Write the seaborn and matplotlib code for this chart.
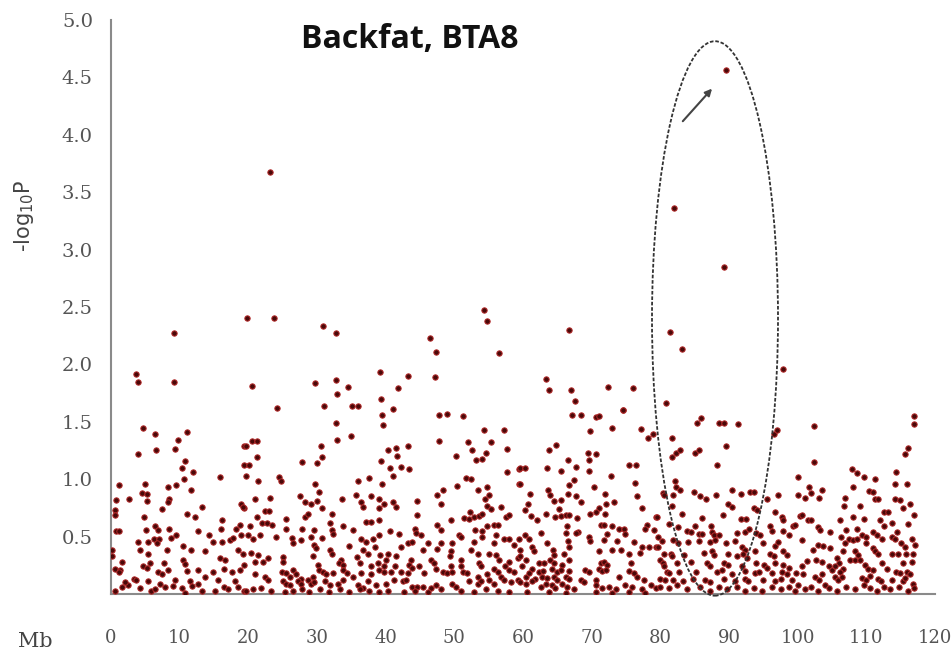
import pandas as pd
import matplotlib.pyplot as plt
import seaborn as sns
from matplotlib.patches import Ellipse

# Peak / upper points (Mb, -log10P)
peaks = [(23.2, 3.68), (89.6, 4.56), (82.0, 3.36), (89.3, 2.85), (19.8, 2.40), (23.7, 2.40),
         (81.4, 2.28), (83.2, 2.13), (97.9, 1.96), (76.0, 1.79), (74.6, 1.60), (80.8, 1.66),
         (9.2, 2.27), (3.7, 1.92), (3.9, 1.85), (9.2, 1.85), (20.5, 1.81), (29.7, 1.84),
         (24.2, 1.62), (30.9, 2.33), (32.8, 2.27), (46.5, 2.23), (47.3, 2.11), (47.2, 1.89),
         (39.2, 1.93), (32.8, 1.86), (34.5, 1.80), (41.8, 1.79), (43.3, 1.90), (66.7, 2.30),
         (56.5, 2.10), (63.3, 1.87), (63.8, 1.78), (67.0, 1.78), (72.4, 1.80), (54.3, 2.47),
         (54.7, 2.38)]

seg_0_19 = [(4.7, 1.45), (6.4, 1.39), (11.0, 1.41), (9.7, 1.34), (9.3, 1.26), (6.6, 1.25), (3.9, 1.22),
            (10.8, 1.16), (10.4, 1.10), (12.0, 1.06), (10.6, 1.00), (15.9, 1.02), (19.4, 1.29), (1.1, 0.95),
            (5.0, 0.96), (8.3, 0.93), (9.4, 0.95), (11.7, 0.91), (4.5, 0.88), (5.3, 0.87), (2.6, 0.83),
            (0.7, 0.82), (8.4, 0.83), (8.3, 0.80), (5.3, 0.81), (7.5, 0.74), (0.6, 0.73), (19.0, 0.78),
            (19.3, 0.75), (13.3, 0.76), (0.6, 0.69), (4.8, 0.67), (11.1, 0.70), (12.2, 0.67), (6.4, 0.59),
            (6.8, 0.56), (8.4, 0.57), (5.1, 0.56), (0.7, 0.55), (1.1, 0.55), (12.6, 0.55), (16.2, 0.64),
            (16.0, 0.57), (18.8, 0.60), (18.2, 0.57), (9.4, 0.51), (14.3, 0.51), (6.3, 0.48), (7.0, 0.48),
            (3.9, 0.45), (5.4, 0.45), (6.7, 0.44), (8.8, 0.49), (10.5, 0.42), (11.7, 0.38), (14.8, 0.45),
            (16.1, 0.45), (17.3, 0.47), (17.8, 0.49), (18.9, 0.51), (0.1, 0.38), (4.2, 0.38), (8.1, 0.38),
            (5.4, 0.35), (13.7, 0.37), (18.5, 0.38), (15.9, 0.31), (16.6, 0.30), (0.1, 0.33), (1.6, 0.28),
            (5.7, 0.27), (7.7, 0.27), (10.5, 0.30), (10.8, 0.26), (0.6, 0.22), (1.3, 0.21), (4.6, 0.24),
            (5.2, 0.23), (6.9, 0.19), (7.5, 0.17), (8.3, 0.21), (11.0, 0.20), (12.7, 0.21), (13.7, 0.15),
            (14.9, 0.19), (16.5, 0.22), (17.6, 0.19), (18.8, 0.21), (1.1, 0.19), (3.3, 0.13), (3.7, 0.12),
            (5.4, 0.11), (9.3, 0.12), (11.5, 0.11), (15.6, 0.12), (18.1, 0.11), (0.6, 0.03), (1.6, 0.06),
            (2.5, 0.08), (4.2, 0.05), (5.9, 0.03), (6.4, 0.04), (7.9, 0.06), (9.1, 0.07), (10.3, 0.05),
            (11.8, 0.07), (13.2, 0.03), (15.1, 0.03), (16.4, 0.06), (17.1, 0.04), (18.5, 0.06), (19.3, 0.03),
            (2.1, 0.10), (7.1, 0.09), (10.8, 0.01), (12.7, 0.09)]

seg_19_39 = [(32.9, 1.74), (31.0, 1.64), (35.1, 1.64), (35.9, 1.64), (39.3, 1.70), (32.7, 1.49), (35.0, 1.38),
             (32.9, 1.34), (39.5, 1.56), (39.6, 1.47), (19.6, 1.29), (20.6, 1.33), (21.3, 1.33), (21.2, 1.19),
             (30.6, 1.29), (30.7, 1.19), (27.8, 1.15), (30.0, 1.14), (19.4, 1.12), (20.1, 1.12), (19.7, 1.03),
             (24.4, 1.02), (24.8, 0.98), (21.4, 0.98), (37.6, 1.01), (39.3, 1.16), (36.0, 0.98), (29.7, 0.96),
             (30.3, 0.89), (20.9, 0.83), (23.1, 0.84), (27.5, 0.85), (28.2, 0.80), (29.2, 0.78), (30.0, 0.81),
             (30.8, 0.75), (33.7, 0.83), (35.7, 0.86), (36.4, 0.80), (36.7, 0.76), (37.9, 0.85), (39.0, 0.83),
             (39.1, 0.75), (19.2, 0.76), (22.4, 0.72), (23.0, 0.72), (21.2, 0.67), (25.5, 0.65), (28.3, 0.67),
             (28.7, 0.70), (32.2, 0.70), (31.9, 0.62), (33.8, 0.59), (35.2, 0.56), (37.1, 0.63), (37.9, 0.63),
             (39.1, 0.64), (22.0, 0.62), (22.7, 0.62), (23.5, 0.60), (20.2, 0.59), (25.5, 0.57), (27.8, 0.57),
             (29.5, 0.56), (32.2, 0.56), (19.9, 0.51), (21.7, 0.51), (26.4, 0.49), (27.7, 0.47), (29.2, 0.50),
             (30.8, 0.49), (32.4, 0.52), (36.4, 0.48), (37.1, 0.45), (38.1, 0.48), (39.0, 0.51), (20.7, 0.48),
             (24.1, 0.50), (26.5, 0.44), (29.5, 0.43), (29.9, 0.40), (31.9, 0.38), (34.6, 0.42), (36.7, 0.38),
             (37.4, 0.35), (38.5, 0.41), (19.2, 0.35), (20.4, 0.36), (21.4, 0.34), (22.8, 0.31), (25.0, 0.32),
             (29.4, 0.33), (32.2, 0.35), (33.5, 0.30), (35.8, 0.32), (39.2, 0.34), (20.9, 0.28), (22.1, 0.28),
             (19.4, 0.25), (25.0, 0.28), (30.1, 0.25), (33.2, 0.27), (33.8, 0.25), (36.3, 0.27), (37.9, 0.24),
             (38.9, 0.27), (24.9, 0.19), (25.5, 0.18), (26.0, 0.15), (26.5, 0.21), (27.0, 0.17), (27.7, 0.13),
             (28.7, 0.12), (29.4, 0.15), (30.3, 0.21), (30.9, 0.19), (31.3, 0.17), (32.3, 0.18), (33.8, 0.21),
             (34.3, 0.18), (35.2, 0.15), (36.4, 0.18), (37.9, 0.17), (39.1, 0.21), (20.9, 0.17), (22.4, 0.15),
             (22.8, 0.12), (25.0, 0.11), (25.5, 0.09), (26.0, 0.08), (27.2, 0.11), (27.7, 0.09), (29.2, 0.09),
             (29.6, 0.10), (31.1, 0.11), (31.9, 0.08), (33.0, 0.09), (33.8, 0.12), (35.9, 0.08), (36.7, 0.05),
             (37.4, 0.11), (38.6, 0.08), (19.7, 0.03), (20.7, 0.04), (21.9, 0.05), (23.3, 0.03), (25.3, 0.02),
             (26.5, 0.03), (27.8, 0.04), (28.9, 0.02), (30.4, 0.04), (31.8, 0.02), (33.3, 0.04), (34.7, 0.02),
             (36.2, 0.04), (37.6, 0.03), (39.1, 0.02)]

seg_39_59 = [(41.1, 1.61), (47.7, 1.56), (48.9, 1.57), (51.3, 1.55), (54.3, 1.43), (57.2, 1.43), (47.7, 1.33),
             (52.0, 1.32), (55.3, 1.32), (40.4, 1.25), (41.5, 1.27), (43.3, 1.29), (41.7, 1.20), (52.6, 1.25),
             (54.6, 1.23), (57.6, 1.26), (50.2, 1.20), (53.1, 1.17), (54.1, 1.18), (40.7, 1.10), (42.3, 1.11),
             (43.4, 1.09), (41.1, 1.03), (57.6, 1.06), (59.4, 1.09), (51.7, 1.01), (52.5, 1.00), (39.4, 0.96),
             (48.3, 0.91), (50.4, 0.94), (53.4, 0.91), (54.7, 0.93), (59.4, 0.96), (47.5, 0.86), (44.6, 0.81),
             (48.1, 0.78), (54.4, 0.83), (55.1, 0.86), (39.7, 0.78), (41.1, 0.80), (41.5, 0.76), (54.8, 0.77),
             (55.3, 0.74), (56.8, 0.76), (44.6, 0.69), (52.3, 0.71), (51.4, 0.66), (52.2, 0.65), (52.9, 0.67),
             (53.6, 0.68), (54.1, 0.70), (57.5, 0.67), (58.0, 0.69), (49.5, 0.64), (54.7, 0.59), (55.8, 0.60),
             (56.4, 0.60), (47.5, 0.60), (44.2, 0.57), (44.4, 0.53), (48.1, 0.56), (53.0, 0.56), (54.0, 0.55),
             (40.7, 0.55), (45.2, 0.51), (50.7, 0.51), (51.0, 0.50), (54.1, 0.50), (56.0, 0.51), (57.2, 0.48),
             (58.0, 0.48), (42.0, 0.52), (43.2, 0.44), (43.9, 0.45), (46.2, 0.44), (48.0, 0.44), (49.6, 0.44),
             (52.9, 0.45), (55.8, 0.44), (58.7, 0.43), (42.2, 0.41), (45.4, 0.38), (47.5, 0.39), (49.5, 0.37),
             (52.4, 0.38), (53.4, 0.35), (55.1, 0.35), (56.0, 0.34), (40.3, 0.35), (40.0, 0.30), (41.5, 0.33),
             (43.7, 0.30), (46.6, 0.30), (49.3, 0.33), (51.0, 0.30), (56.5, 0.30), (58.0, 0.28), (59.2, 0.31),
             (39.8, 0.24), (39.8, 0.19), (41.3, 0.24), (43.4, 0.25), (43.8, 0.23), (44.9, 0.24), (47.1, 0.27),
             (47.3, 0.22), (49.5, 0.24), (51.0, 0.24), (51.2, 0.19), (53.6, 0.27), (53.9, 0.24), (55.8, 0.22),
             (56.3, 0.19), (57.4, 0.24), (58.0, 0.21), (58.7, 0.19), (40.8, 0.19), (42.2, 0.19), (43.2, 0.18),
             (45.6, 0.18), (48.3, 0.19), (49.0, 0.18), (49.7, 0.19), (51.9, 0.18), (53.4, 0.15), (54.8, 0.17),
             (56.8, 0.15), (40.0, 0.09), (41.2, 0.12), (42.5, 0.11), (42.9, 0.12), (43.9, 0.06), (44.6, 0.06),
             (45.4, 0.06), (46.6, 0.05), (47.3, 0.08), (49.7, 0.09), (50.2, 0.06), (52.2, 0.11), (53.4, 0.09),
             (53.9, 0.11), (55.1, 0.12), (55.8, 0.09), (57.3, 0.12), (58.2, 0.10), (59.2, 0.12), (40.3, 0.03),
             (42.7, 0.02), (44.2, 0.03), (46.1, 0.02), (48.0, 0.04), (51.0, 0.03), (52.9, 0.02), (54.6, 0.04),
             (56.3, 0.03), (58.0, 0.02)]

seg_59_79 = [(67.6, 1.68), (67.2, 1.56), (68.4, 1.56), (70.6, 1.54), (71.0, 1.55), (74.5, 1.60), (69.8, 1.42),
             (72.9, 1.45), (77.2, 1.44), (78.2, 1.36), (78.9, 1.39), (64.8, 1.30), (63.8, 1.25), (69.4, 1.23),
             (70.6, 1.22), (66.6, 1.17), (69.6, 1.17), (59.5, 1.10), (60.3, 1.10), (63.5, 1.10), (65.6, 1.07),
             (67.7, 1.11), (69.6, 1.07), (75.5, 1.12), (76.4, 1.12), (72.8, 1.03), (76.3, 0.97), (59.5, 0.96),
             (66.7, 0.95), (67.4, 0.99), (70.3, 0.93), (63.7, 0.91), (64.0, 0.86), (66.6, 0.87), (67.7, 0.85),
             (71.9, 0.87), (76.6, 0.85), (61.0, 0.87), (64.5, 0.81), (65.6, 0.82), (68.4, 0.80), (73.2, 0.80),
             (71.0, 0.75), (72.1, 0.78), (77.4, 0.75), (60.8, 0.78), (60.3, 0.73), (65.2, 0.74), (63.3, 0.70),
             (64.6, 0.67), (65.5, 0.68), (66.2, 0.69), (66.7, 0.69), (69.8, 0.70), (70.6, 0.71), (72.0, 0.70),
             (61.1, 0.68), (62.1, 0.64), (67.9, 0.66), (79.3, 0.67), (66.4, 0.59), (68.0, 0.54), (67.7, 0.53),
             (71.3, 0.60), (71.8, 0.60), (72.9, 0.59), (74.0, 0.57), (74.7, 0.57), (78.1, 0.60), (77.8, 0.57),
             (60.3, 0.51), (60.9, 0.48), (62.6, 0.53), (66.2, 0.53), (69.6, 0.50), (72.3, 0.52), (74.9, 0.52),
             (79.1, 0.56), (59.4, 0.48), (61.3, 0.41), (63.5, 0.44), (66.6, 0.46), (66.7, 0.41), (69.7, 0.46),
             (71.8, 0.47), (73.7, 0.46), (76.1, 0.45), (77.4, 0.41), (78.3, 0.41), (79.3, 0.41), (59.6, 0.38),
             (61.6, 0.37), (64.3, 0.38), (64.5, 0.34), (66.0, 0.35), (71.1, 0.37), (73.0, 0.38), (74.2, 0.38),
             (75.4, 0.35), (77.1, 0.36), (59.6, 0.33), (60.4, 0.30), (62.4, 0.27), (63.0, 0.27), (63.9, 0.30),
             (64.5, 0.27), (65.7, 0.25), (66.7, 0.30), (71.3, 0.27), (71.8, 0.28), (72.3, 0.25), (75.7, 0.27),
             (59.9, 0.24), (61.3, 0.22), (62.4, 0.19), (62.9, 0.20), (64.2, 0.22), (65.0, 0.19), (65.5, 0.21),
             (66.7, 0.20), (69.1, 0.21), (69.6, 0.19), (71.0, 0.22), (71.5, 0.20), (72.1, 0.21), (75.4, 0.20),
             (60.4, 0.15), (60.9, 0.18), (61.7, 0.13), (62.8, 0.15), (63.5, 0.14), (64.5, 0.15), (65.0, 0.12),
             (66.2, 0.15), (66.7, 0.13), (68.4, 0.12), (70.6, 0.12), (74.0, 0.15), (76.2, 0.18), (76.6, 0.15),
             (77.6, 0.12), (59.6, 0.10), (60.4, 0.09), (61.3, 0.11), (62.6, 0.06), (63.3, 0.09), (64.2, 0.08),
             (64.7, 0.05), (65.7, 0.09), (66.4, 0.06), (67.4, 0.04), (68.9, 0.10), (70.7, 0.08), (71.5, 0.05),
             (72.5, 0.06), (73.5, 0.04), (74.9, 0.08), (75.9, 0.06), (77.4, 0.04), (78.6, 0.08), (79.3, 0.05),
             (60.6, 0.02), (63.8, 0.02), (66.2, 0.01), (70.6, 0.02), (73.0, 0.01), (75.4, 0.02), (77.8, 0.01)]

seg_79_99 = [(85.4, 1.49), (85.9, 1.53), (88.6, 1.49), (89.2, 1.49), (91.3, 1.48), (89.5, 1.29), (96.5, 1.39),
             (97.0, 1.43), (81.7, 1.36), (81.7, 1.19), (82.3, 1.23), (82.9, 1.25), (85.1, 1.23), (85.6, 1.25),
             (88.3, 1.12), (80.4, 0.88), (80.6, 0.86), (82.2, 0.98), (82.3, 0.93), (82.8, 0.91), (81.9, 0.86),
             (84.9, 0.89), (85.8, 0.85), (86.7, 0.83), (88.1, 0.86), (90.4, 0.91), (91.7, 0.87), (93.0, 0.89),
             (93.6, 0.89), (95.6, 0.83), (97.2, 0.86), (81.7, 0.77), (89.9, 0.78), (90.4, 0.76), (93.7, 0.75),
             (94.1, 0.73), (96.7, 0.71), (97.7, 0.67), (97.8, 0.64), (79.5, 0.67), (83.1, 0.70), (86.1, 0.66),
             (89.1, 0.69), (91.7, 0.65), (92.5, 0.65), (81.2, 0.61), (82.5, 0.58), (83.9, 0.55), (84.4, 0.54),
             (85.1, 0.59), (85.6, 0.52), (86.1, 0.52), (87.4, 0.59), (87.5, 0.54), (87.8, 0.51), (88.5, 0.51),
             (91.2, 0.53), (92.4, 0.54), (92.9, 0.57), (94.0, 0.53), (94.5, 0.51), (96.0, 0.59), (96.2, 0.55),
             (97.9, 0.55), (98.7, 0.51), (99.3, 0.59), (79.7, 0.50), (80.2, 0.46), (81.8, 0.47), (82.5, 0.44),
             (84.1, 0.45), (85.6, 0.46), (87.3, 0.45), (88.0, 0.47), (89.5, 0.44), (90.9, 0.46), (91.9, 0.41),
             (92.4, 0.38), (95.0, 0.44), (96.7, 0.42), (97.2, 0.45), (79.7, 0.41), (80.5, 0.35), (81.5, 0.35),
             (81.7, 0.33), (83.4, 0.34), (86.3, 0.36), (87.5, 0.37), (87.8, 0.34), (89.8, 0.35), (91.2, 0.33),
             (92.1, 0.35), (92.6, 0.31), (93.8, 0.37), (96.0, 0.35), (96.5, 0.33), (97.9, 0.37), (98.5, 0.34),
             (80.0, 0.30), (80.4, 0.27), (80.6, 0.24), (82.4, 0.27), (84.4, 0.28), (86.8, 0.27), (87.3, 0.24),
             (89.2, 0.27), (89.9, 0.25), (91.9, 0.24), (94.0, 0.27), (95.1, 0.25), (95.5, 0.23), (96.7, 0.27),
             (97.8, 0.25), (98.7, 0.23), (81.0, 0.19), (81.3, 0.18), (82.7, 0.19), (85.2, 0.19), (88.2, 0.19),
             (89.0, 0.21), (90.4, 0.17), (92.4, 0.20), (93.8, 0.18), (94.3, 0.19), (96.2, 0.18), (97.7, 0.19),
             (98.4, 0.17), (79.9, 0.13), (80.7, 0.12), (81.9, 0.12), (83.3, 0.11), (84.7, 0.13), (86.5, 0.12),
             (87.3, 0.10), (89.2, 0.13), (90.8, 0.11), (92.4, 0.13), (92.8, 0.11), (95.0, 0.12), (96.7, 0.11),
             (97.5, 0.13), (99.2, 0.12), (80.0, 0.06), (81.2, 0.05), (82.4, 0.08), (83.9, 0.04), (85.8, 0.06),
             (87.3, 0.03), (88.5, 0.06), (89.7, 0.04), (91.2, 0.06), (92.4, 0.03), (93.6, 0.05), (94.8, 0.03),
             (96.2, 0.06), (97.5, 0.04), (98.7, 0.06), (99.6, 0.03)]

seg_99_118 = [(102.4, 1.46), (117.0, 1.55), (117.0, 1.48), (102.4, 1.15), (116.0, 1.27), (115.6, 1.22),
              (107.9, 1.09), (108.6, 1.05), (109.6, 1.02), (111.3, 1.00), (114.3, 1.06), (100.0, 1.02),
              (101.6, 0.93), (103.5, 0.91), (108.1, 0.93), (110.4, 0.90), (111.0, 0.89), (114.1, 0.96),
              (115.9, 0.96), (101.1, 0.84), (102.0, 0.88), (103.1, 0.84), (106.9, 0.84), (111.2, 0.83),
              (111.7, 0.83), (114.1, 0.83), (114.9, 0.82), (100.0, 0.86), (106.8, 0.77), (109.1, 0.77),
              (116.3, 0.78), (115.4, 0.75), (112.6, 0.71), (113.1, 0.71), (117.0, 0.69), (100.3, 0.68),
              (100.6, 0.69), (101.5, 0.64), (102.0, 0.64), (108.1, 0.67), (109.7, 0.65), (106.2, 0.64),
              (112.0, 0.64), (113.7, 0.62), (116.1, 0.61), (99.6, 0.60), (103.0, 0.58), (103.2, 0.56),
              (104.7, 0.54), (107.1, 0.56), (108.6, 0.57), (110.9, 0.54), (112.6, 0.59), (114.4, 0.54),
              (109.3, 0.51), (109.9, 0.50), (106.3, 0.50), (107.5, 0.48), (108.1, 0.47), (108.7, 0.48),
              (111.5, 0.51), (112.3, 0.48), (113.7, 0.50), (114.2, 0.48), (116.6, 0.48), (100.6, 0.47),
              (103.0, 0.43), (103.7, 0.42), (104.7, 0.40), (106.9, 0.44), (110.0, 0.44), (111.0, 0.40),
              (115.1, 0.44), (115.6, 0.41), (117.1, 0.43), (102.3, 0.38), (106.6, 0.37), (108.4, 0.37),
              (108.8, 0.34), (111.3, 0.37), (111.7, 0.35), (113.7, 0.35), (114.6, 0.35), (115.8, 0.35),
              (116.8, 0.35), (101.4, 0.29), (102.6, 0.30), (103.5, 0.28), (105.7, 0.31), (106.0, 0.27),
              (107.6, 0.30), (108.3, 0.30), (109.1, 0.30), (112.3, 0.27), (115.4, 0.27), (116.6, 0.28),
              (100.6, 0.24), (104.5, 0.24), (105.0, 0.21), (105.4, 0.24), (106.6, 0.22), (106.2, 0.19),
              (109.8, 0.25), (110.3, 0.22), (110.9, 0.21), (113.0, 0.22), (114.3, 0.19), (114.9, 0.18),
              (115.9, 0.19), (116.3, 0.17), (99.8, 0.18), (100.8, 0.17), (102.5, 0.15), (103.1, 0.12),
              (103.5, 0.17), (105.4, 0.15), (105.9, 0.12), (106.4, 0.15), (109.3, 0.14), (110.0, 0.12),
              (110.5, 0.16), (111.7, 0.13), (112.2, 0.11), (113.7, 0.12), (115.4, 0.11), (115.6, 0.14),
              (116.8, 0.09), (100.1, 0.08), (101.1, 0.04), (102.0, 0.06), (103.0, 0.03), (104.0, 0.08),
              (104.5, 0.05), (105.7, 0.03), (107.1, 0.06), (108.3, 0.04), (109.6, 0.08), (110.5, 0.05),
              (111.5, 0.03), (112.5, 0.06), (113.4, 0.04), (114.7, 0.06), (116.1, 0.03), (117.0, 0.05)]

x_ticks = list(range(0, 121, 10))
y_ticks = [0.5, 1.0, 1.5, 2.0, 2.5, 3.0, 3.5, 4.0, 4.5, 5.0]

rows = peaks + seg_0_19 + seg_19_39 + seg_39_59 + seg_59_79 + seg_79_99 + seg_99_118
df = pd.DataFrame(rows, columns=["Mb", "logP"])

sns.set_theme(style="white")
fig = plt.figure(figsize=(9.51, 6.53), dpi=100)
ax = fig.add_axes([0.1167, 0.0904, 0.8665, 0.879])

sns.scatterplot(data=df, x="Mb", y="logP", ax=ax, s=15, color="#4a0808",
                edgecolor="#b52a2a", linewidth=0.7, zorder=3)

ax.set_xlim(0, 120)
ax.set_ylim(0, 5)
ax.set_xticks(x_ticks)
ax.set_xticks(list(range(5, 120, 10)), minor=True)
ax.set_yticks(y_ticks)
ax.set_yticklabels([f"{v:.1f}" for v in y_ticks])
ax.set_xlabel("")
ax.set_ylabel("")

for side in ["top", "right"]:
    ax.spines[side].set_visible(False)
for side in ["left", "bottom"]:
    ax.spines[side].set_color("#8a8a8a")
    ax.spines[side].set_linewidth(1.5)

ax.tick_params(axis="both", which="both", direction="out", color="#8a8a8a",
               labelcolor="#555555", labelsize=14)
ax.tick_params(axis="x", which="major", length=7, width=1.2, pad=18, labelsize=13)
ax.tick_params(axis="x", which="minor", length=5, width=1.0)
ax.tick_params(axis="y", length=5, width=1.2, pad=8)
for lab in ax.get_xticklabels() + ax.get_yticklabels():
    lab.set_fontfamily("DejaVu Serif")

# highlight region around the peak
ell = Ellipse((87.96, 2.40), 18.35, 4.83, fill=False, linestyle=(0, (2, 1)),
              linewidth=1.3, edgecolor="#333333", clip_on=False, zorder=4)
ax.add_patch(ell)
ax.annotate("", xy=(87.8, 4.42), xytext=(83.0, 4.10),
            arrowprops=dict(arrowstyle="-|>", color="#444444", lw=1.5, mutation_scale=10))

ax.text(43.5, 4.83, "Backfat, BTA8", fontsize=23, fontweight="bold",
        fontfamily="Open Sans", ha="center", va="center", color="#111111")

fig.text(0.025, 0.67, "-log$_{10}$P", rotation=90, fontsize=15, color="#444444",
         ha="center", va="center")
fig.text(0.037, 0.018, "Mb", fontsize=15, color="#444444", ha="center", va="center",
         fontfamily="DejaVu Serif")

plt.savefig("out.png", dpi=100)
